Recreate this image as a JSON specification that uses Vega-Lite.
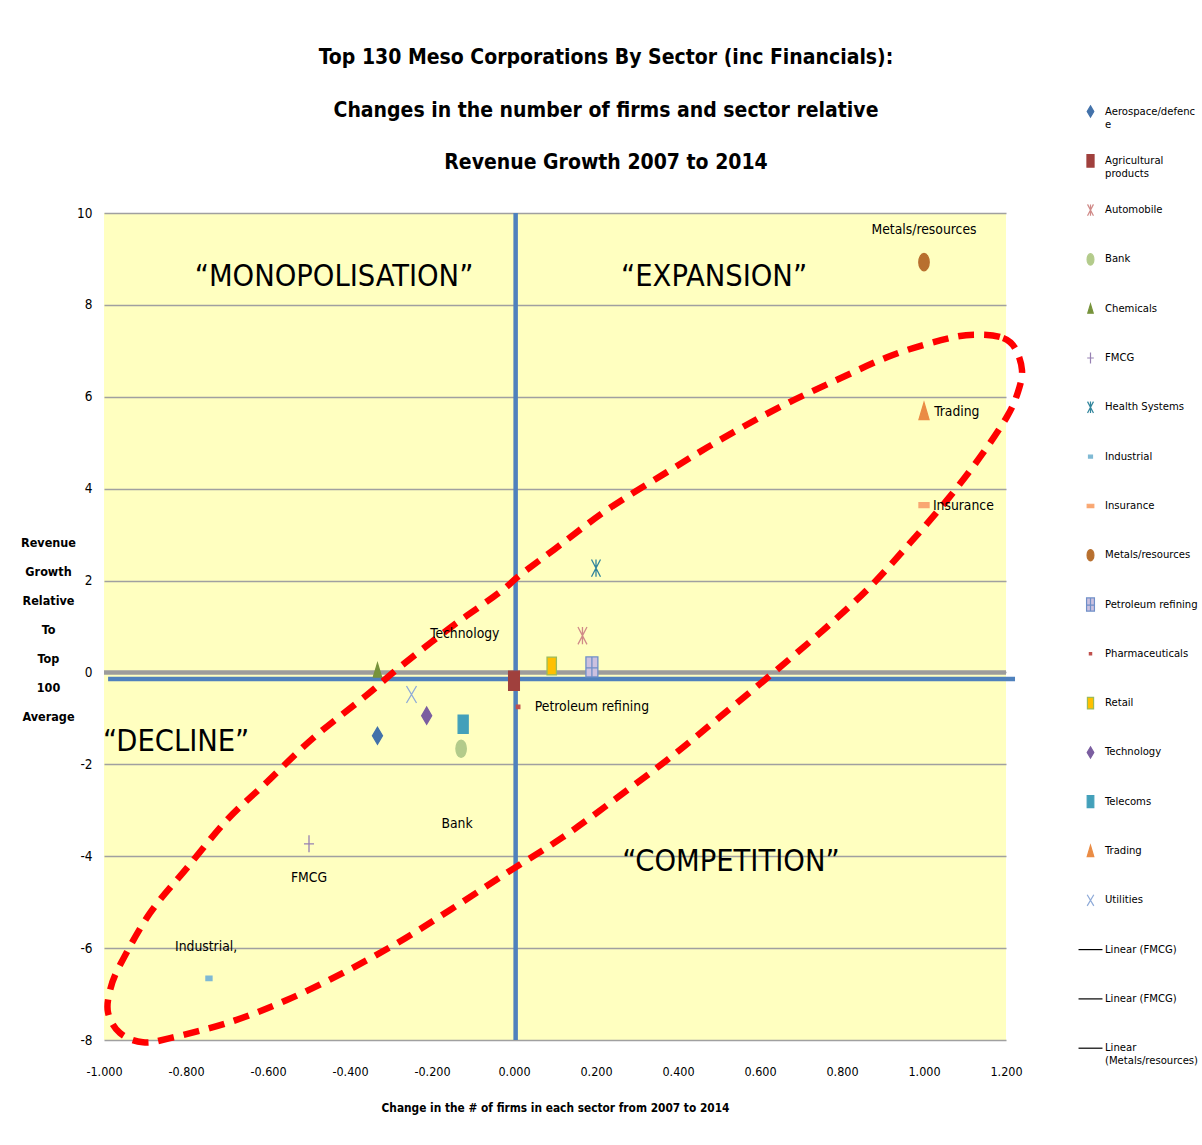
{
  "$schema": "https://vega.github.io/schema/vega-lite/v6.json",
  "width": 902,
  "height": 827,
  "autosize": {"type": "none"},
  "padding": {"left": 104, "top": 213, "right": 196, "bottom": 105},
  "background": "#ffffff",
  "title": {
    "text": ["Top 130 Meso Corporations By Sector (inc Financials):", "Changes in the number of firms and sector relative", "Revenue Growth 2007 to 2014"],
    "font": "DejaVu Sans Condensed, Liberation Sans, sans-serif",
    "fontSize": 21,
    "fontWeight": "bold",
    "lineHeight": 52.5,
    "color": "#000000",
    "anchor": "middle",
    "frame": "group",
    "dx": 51,
    "offset": -68
  },
  "config": {
    "view": {"stroke": null, "fill": "#ffffc0"},
    "font": "DejaVu Sans Condensed, Liberation Sans, sans-serif",
    "axis": {"labelColor": "#000000", "titleColor": "#000000", "labelFlush": false}
  },
  "datasets": {
    "sectors": [
      {"sector": "Aerospace/defence", "x": -0.333, "y": -1.38},
      {"sector": "Agricultural products", "x": 0.0, "y": -0.18},
      {"sector": "Automobile", "x": 0.167, "y": 0.8},
      {"sector": "Bank", "x": -0.129, "y": -1.66},
      {"sector": "Chemicals", "x": -0.333, "y": 0.05},
      {"sector": "FMCG", "x": -0.5, "y": -3.73},
      {"sector": "Health Systems", "x": 0.2, "y": 2.27},
      {"sector": "Industrial", "x": -0.744, "y": -6.66},
      {"sector": "Insurance", "x": 1.0, "y": 3.64},
      {"sector": "Metals/resources", "x": 1.0, "y": 8.93},
      {"sector": "Petroleum refining", "x": 0.19, "y": 0.12},
      {"sector": "Pharmaceuticals", "x": 0.01, "y": -0.75},
      {"sector": "Retail", "x": 0.092, "y": 0.14},
      {"sector": "Technology", "x": -0.213, "y": -0.94},
      {"sector": "Telecoms", "x": -0.124, "y": -1.13},
      {"sector": "Trading", "x": 1.0, "y": 5.69},
      {"sector": "Utilities", "x": -0.25, "y": -0.48}
    ],
    "pointLabels": [
      {"text": "Metals/resources", "x": 1.0, "y": 9.63},
      {"text": "Trading", "x": 1.08, "y": 5.67},
      {"text": "Insurance", "x": 1.096, "y": 3.62},
      {"text": "Technology", "x": -0.12, "y": 0.84},
      {"text": "Petroleum refining", "x": 0.19, "y": -0.75},
      {"text": "Bank", "x": -0.139, "y": -3.3},
      {"text": "FMCG", "x": -0.5, "y": -4.47},
      {"text": "Industrial,", "x": -0.751, "y": -5.98}
    ],
    "quadrants": [
      {"text": "“MONOPOLISATION”", "x": -0.439, "y": 8.61},
      {"text": "“EXPANSION”", "x": 0.488, "y": 8.61},
      {"text": "“DECLINE”", "x": -0.824, "y": -1.51},
      {"text": "“COMPETITION”", "x": 0.529, "y": -4.12}
    ],
    "crosshair": [
      {"x": 0.004, "x2": 0.004, "y": 10, "y2": -8},
      {"x": -0.99, "x2": 1.222, "y": -0.14, "y2": -0.14}
    ],
    "zeroLine": [
      {"x": -1.0, "x2": 1.2, "y": 0}
    ],
    "ellipse": [
      {"i": 1, "x": 1.137, "y": 7.35},
      {"i": 2, "x": 1.193, "y": 7.28},
      {"i": 3, "x": 1.222, "y": 7.06},
      {"i": 4, "x": 1.239, "y": 6.58},
      {"i": 5, "x": 1.229, "y": 6.1},
      {"i": 6, "x": 1.202, "y": 5.56},
      {"i": 7, "x": 1.137, "y": 4.69},
      {"i": 8, "x": 1.056, "y": 3.75},
      {"i": 9, "x": 0.966, "y": 2.82},
      {"i": 10, "x": 0.868, "y": 1.86},
      {"i": 11, "x": 0.763, "y": 0.99},
      {"i": 12, "x": 0.632, "y": -0.01},
      {"i": 13, "x": 0.502, "y": -0.97},
      {"i": 14, "x": 0.38, "y": -1.86},
      {"i": 15, "x": 0.251, "y": -2.73},
      {"i": 16, "x": 0.12, "y": -3.58},
      {"i": 17, "x": -0.017, "y": -4.36},
      {"i": 18, "x": -0.156, "y": -5.17},
      {"i": 19, "x": -0.285, "y": -5.89},
      {"i": 20, "x": -0.417, "y": -6.54},
      {"i": 21, "x": -0.554, "y": -7.13},
      {"i": 22, "x": -0.693, "y": -7.61},
      {"i": 23, "x": -0.839, "y": -7.96},
      {"i": 24, "x": -0.905, "y": -8.05},
      {"i": 25, "x": -0.961, "y": -7.85},
      {"i": 26, "x": -0.99, "y": -7.41},
      {"i": 27, "x": -0.985, "y": -6.91},
      {"i": 28, "x": -0.961, "y": -6.37},
      {"i": 29, "x": -0.888, "y": -5.24},
      {"i": 30, "x": -0.798, "y": -4.26},
      {"i": 31, "x": -0.7, "y": -3.21},
      {"i": 32, "x": -0.602, "y": -2.38},
      {"i": 33, "x": -0.49, "y": -1.43},
      {"i": 34, "x": -0.359, "y": -0.49},
      {"i": 35, "x": -0.278, "y": 0.12},
      {"i": 36, "x": -0.156, "y": 0.97},
      {"i": 37, "x": -0.034, "y": 1.75},
      {"i": 38, "x": 0.015, "y": 2.12},
      {"i": 39, "x": 0.112, "y": 2.77},
      {"i": 40, "x": 0.227, "y": 3.54},
      {"i": 41, "x": 0.373, "y": 4.36},
      {"i": 42, "x": 0.51, "y": 5.1},
      {"i": 43, "x": 0.649, "y": 5.78},
      {"i": 44, "x": 0.788, "y": 6.37},
      {"i": 45, "x": 0.924, "y": 6.91},
      {"i": 46, "x": 1.063, "y": 7.28}
    ]
  },
  "layer": [
    {
      "data": {"name": "zeroLine"},
      "mark": {"type": "rule", "color": "#9c9c9c", "strokeWidth": 4.5},
      "encoding": {
        "x": {
          "field": "x", "type": "quantitative",
          "scale": {"domain": [-1, 1.2], "nice": false, "zero": false},
          "axis": {
            "values": [-1, -0.8, -0.6, -0.4, -0.2, 0, 0.2, 0.4, 0.6, 0.8, 1, 1.2],
            "format": ".3f",
            "labelExpr": "replace(datum.label, '−', '-')",
            "grid": false, "domain": false, "ticks": false,
            "labelFontSize": 12.5, "labelPadding": 25,
            "title": "Change in the # of firms in each sector from 2007 to 2014",
            "titleFontSize": 11.8, "titleFontWeight": "bold", "titlePadding": 25
          }
        },
        "x2": {"field": "x2"},
        "y": {
          "field": "y", "type": "quantitative",
          "scale": {"domain": [-8, 10], "nice": false, "zero": false},
          "axis": {
            "values": [-8, -6, -4, -2, 0, 2, 4, 6, 8, 10],
            "labelExpr": "replace(datum.label, '−', '-')",
            "grid": true, "gridColor": "#a0a0a0", "gridWidth": 1.5,
            "domain": false, "ticks": false,
            "labelFontSize": 13.5, "labelPadding": 12,
            "title": ["Revenue", "Growth", "Relative", "To", "Top", "100", "Average"],
            "titleFontSize": 12.5, "titleFontWeight": "bold",
            "titleAngle": 0, "titleAlign": "center", "titleBaseline": "middle",
            "titleLineHeight": 29, "titleX": -56, "titleY": 329
          }
        }
      }
    },
    {
      "data": {"name": "crosshair"},
      "mark": {"type": "rule", "color": "#4f81bd", "strokeWidth": 4.5},
      "encoding": {
        "x": {"field": "x", "type": "quantitative"},
        "x2": {"field": "x2"},
        "y": {"field": "y", "type": "quantitative"},
        "y2": {"field": "y2"}
      }
    },
    {
      "data": {"name": "sectors"},
      "mark": {"type": "point", "size": 300, "strokeWidth": 1.3, "opacity": 1},
      "encoding": {
        "x": {"field": "x", "type": "quantitative"},
        "y": {"field": "y", "type": "quantitative"},
        "fill": {
          "field": "sector", "type": "nominal",
          "scale": {
            "domain": ["Aerospace/defence", "Agricultural products", "Automobile", "Bank", "Chemicals", "FMCG", "Health Systems", "Industrial", "Insurance", "Metals/resources", "Petroleum refining", "Pharmaceuticals", "Retail", "Technology", "Telecoms", "Trading", "Utilities", "Linear (FMCG)", "Linear (FMCG) ", "Linear (Metals/resources)"],
            "range": ["#4372aa", "#a0403d", "#d99694", "#b3cb8b", "#77933c", "#9781b3", "#31859c", "#7fb9d4", "#f9a772", "#b8702f", "#ccc1df", "#c0504d", "#ffc000", "#7b5ea0", "#43a0ba", "#ea8c45", "#8eaad8", "#000000", "#000000", "#000000"]
          },
          "legend": {
            "title": null,
            "orient": "none",
            "legendX": 980,
            "legendY": -108,
            "labelFontSize": 11.2,
            "labelOffset": 8,
            "labelLimit": 200,
            "symbolSize": 130,
            "symbolStrokeWidth": 1.2,
            "rowPadding": 21.3,
            "gridAlign": "all",
            "labelExpr": "datum.label == 'Aerospace/defence' ? ['Aerospace/defenc', 'e'] : datum.label == 'Agricultural products' ? ['Agricultural', 'products'] : datum.label == 'Linear (Metals/resources)' ? ['Linear', '(Metals/resources)'] : datum.label"
          }
        },
        "stroke": {
          "field": "sector", "type": "nominal",
          "scale": {
            "domain": ["Aerospace/defence", "Agricultural products", "Automobile", "Bank", "Chemicals", "FMCG", "Health Systems", "Industrial", "Insurance", "Metals/resources", "Petroleum refining", "Pharmaceuticals", "Retail", "Technology", "Telecoms", "Trading", "Utilities", "Linear (FMCG)", "Linear (FMCG) ", "Linear (Metals/resources)"],
            "range": ["#4372aa", "#a0403d", "#d08a88", "#b3cb8b", "#77933c", "#9781b3", "#31859c", "#7fb9d4", "#f9a772", "#b8702f", "#6f8fc8", "#c0504d", "#9bbb59", "#7b5ea0", "#43a0ba", "#ea8c45", "#8eaad8", "#000000", "#000000", "#000000"]
          }
        },
        "shape": {
          "field": "sector", "type": "nominal",
          "scale": {
            "domain": ["Aerospace/defence", "Agricultural products", "Automobile", "Bank", "Chemicals", "FMCG", "Health Systems", "Industrial", "Insurance", "Metals/resources", "Petroleum refining", "Pharmaceuticals", "Retail", "Technology", "Telecoms", "Trading", "Utilities", "Linear (FMCG)", "Linear (FMCG) ", "Linear (Metals/resources)"],
            "range": [
              "M0,-0.98L0.58,0L0,0.98L-0.58,0Z",
              "M-0.62,-1.1H0.62V1.1H-0.62Z",
              "M-0.52,-1L0.52,1M0.52,-1L-0.52,1M0,-1V1",
              "M0,-1A0.6,1,0,1,1,0,1A0.6,1,0,1,1,0,-1Z",
              "M0,-0.8L0.48,0.8L-0.48,0.8Z",
              "M-0.58,0H0.58M0,-0.98V0.98",
              "M-0.52,-1L0.52,1M0.52,-1L-0.52,1M0,-1V1",
              "M-0.35,-0.25H0.35V0.25H-0.35Z",
              "M-0.58,-0.29H0.58V0.29H-0.58Z",
              "M0,-1A0.6,1,0,1,1,0,1A0.6,1,0,1,1,0,-1Z",
              "M-0.69,-1.15H0.69V1.15H-0.69ZM-0.69,0.1H0.69M0,-1.15V1.15",
              "M-0.2,-0.2H0.2V0.2H-0.2Z",
              "M-0.54,-1.02H0.54V1.02H-0.54Z",
              "M0,-0.98L0.58,0L0,0.98L-0.58,0Z",
              "M-0.58,-1.05H0.58V1.05H-0.58Z",
              "M0,-0.98L0.58,0.98L-0.58,0.98Z",
              "M-0.58,-0.98L0.58,0.98M0.58,-0.98L-0.58,0.98",
              "M-2.1,0H2.1",
              "M-2.1,0H2.1",
              "M-2.1,0H2.1"
            ]
          }
        }
      }
    },
    {
      "data": {"name": "ellipse"},
      "mark": {"type": "line", "color": "#ff0000", "strokeWidth": 6.5, "strokeDash": [16, 10], "interpolate": "cardinal-closed"},
      "encoding": {
        "x": {"field": "x", "type": "quantitative"},
        "y": {"field": "y", "type": "quantitative"},
        "order": {"field": "i", "type": "quantitative"}
      }
    },
    {
      "data": {"name": "pointLabels"},
      "mark": {"type": "text", "fontSize": 13.8, "color": "#000000", "align": "center", "baseline": "middle"},
      "encoding": {
        "x": {"field": "x", "type": "quantitative"},
        "y": {"field": "y", "type": "quantitative"},
        "text": {"field": "text"}
      }
    },
    {
      "data": {"name": "quadrants"},
      "mark": {"type": "text", "fontSize": 30.5, "color": "#000000", "align": "center", "baseline": "middle"},
      "encoding": {
        "x": {"field": "x", "type": "quantitative"},
        "y": {"field": "y", "type": "quantitative"},
        "text": {"field": "text"}
      }
    }
  ]
}
